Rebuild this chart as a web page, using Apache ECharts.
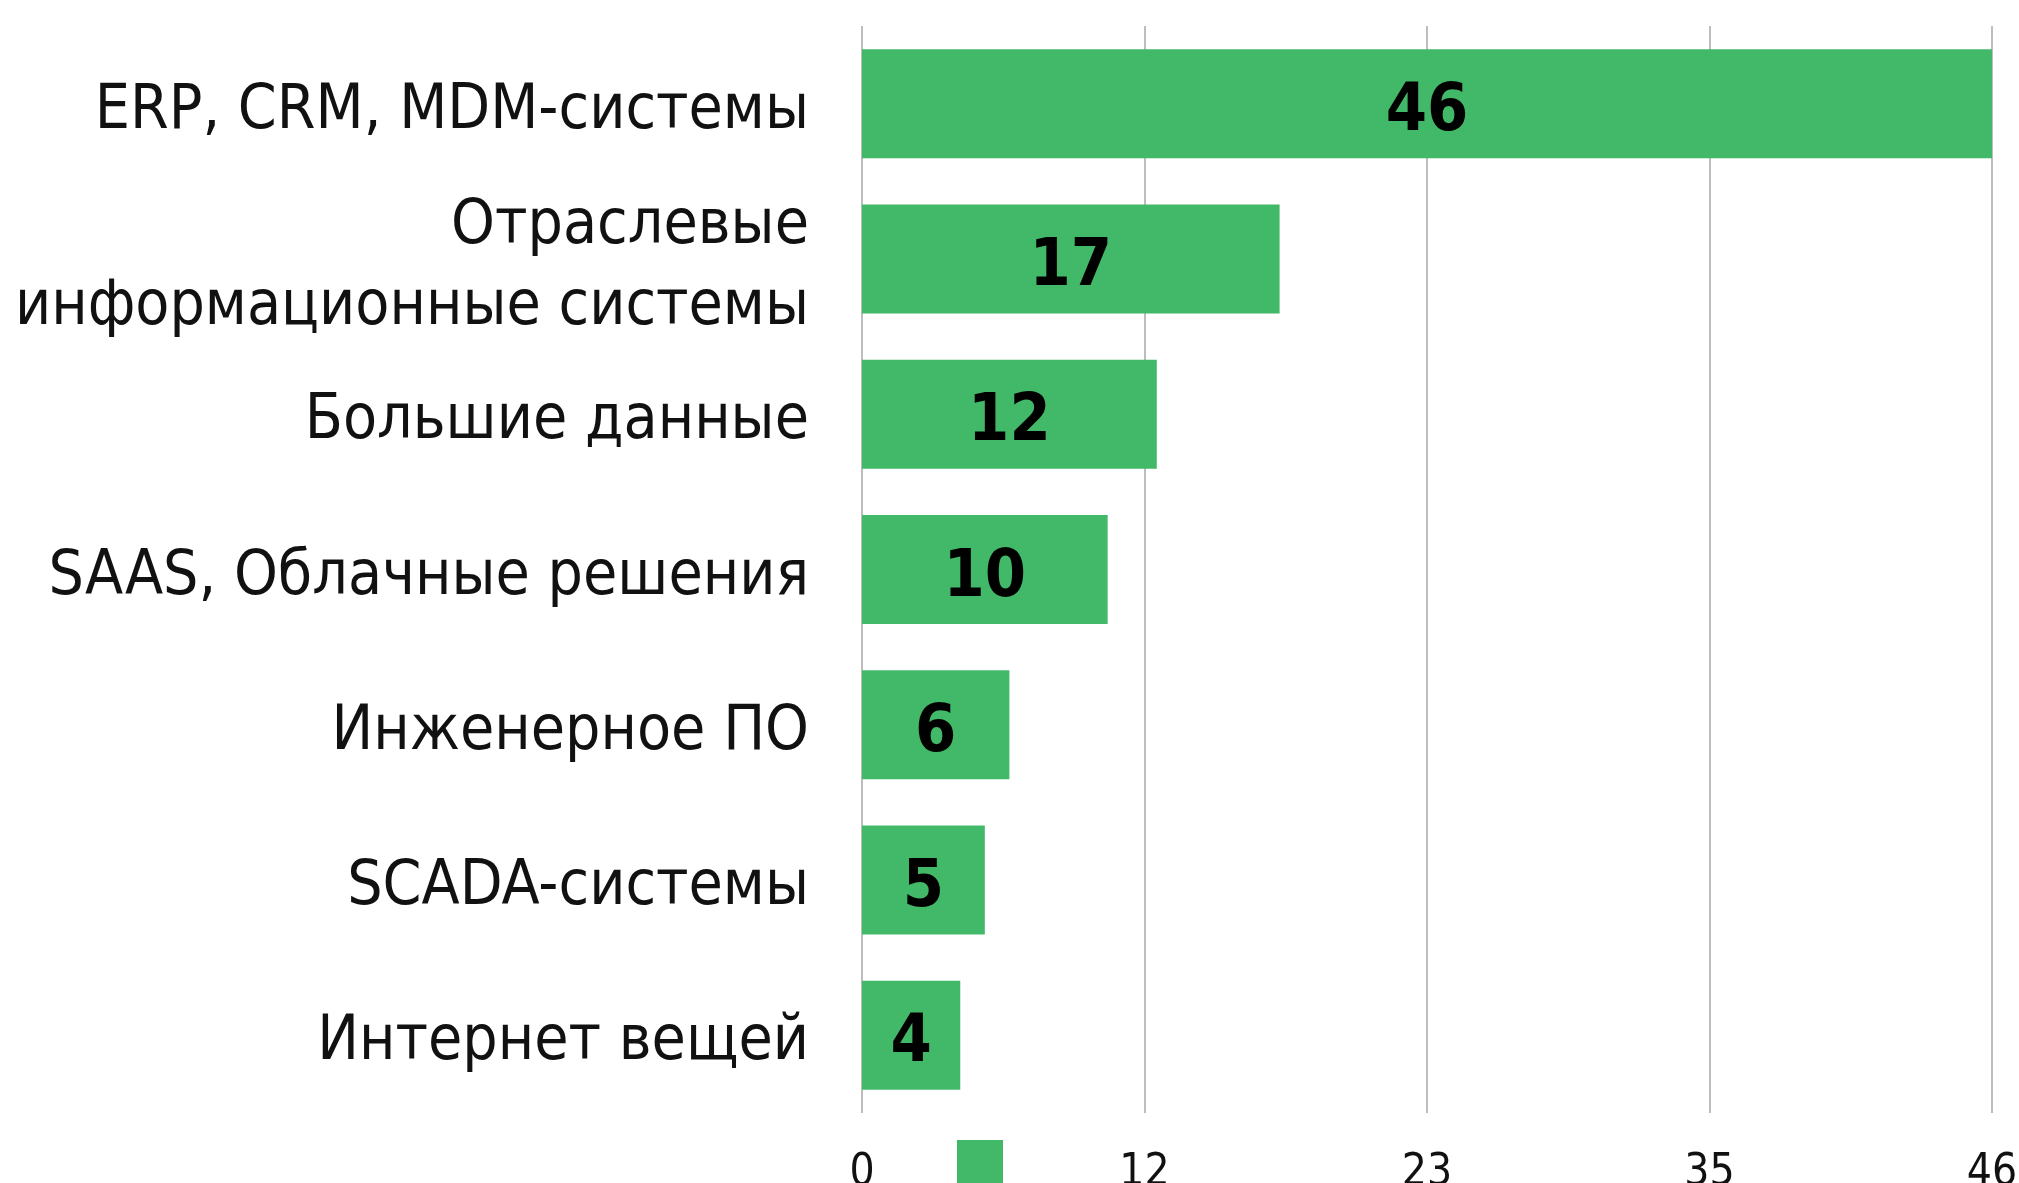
<!DOCTYPE html>
<html><head><meta charset="utf-8">
<script src="https://cdn.jsdelivr.net/npm/echarts@6/dist/echarts.min.js"></script>
<style>html,body{margin:0;padding:0;background:#fff}#c{width:2019px;height:1183px}</style>
</head><body><div id="c"></div>
<script>
const categories = ["ERP, CRM, MDM-системы", "Отраслевые\nинформационные системы", "Большие данные", "SAAS, Облачные решения", "Инженерное ПО", "SCADA-системы", "Интернет вещей"];
const values = [46, 17, 12, 10, 6, 5, 4];
const axisMax = 46;
const axisStep = 11.5;

const chart = echarts.init(document.getElementById('c'));
chart.setOption({
  animation: false,
  backgroundColor: '#ffffff',
  grid: [
    { left: 862, right: 27, top: 26, bottom: 70, containLabel: false, outerBoundsMode: 'none' },
    { left: 862, right: 27, top: 34, bottom: 62, containLabel: false, outerBoundsMode: 'none' }
  ],
  legend: {
    left: 952, top: 1135, itemWidth: 46, itemHeight: 46, icon: 'rect',
    formatter: () => '', data: ['Количество'], textStyle: { fontSize: 1 }
  },
  xAxis: [{
    type: 'value', gridIndex: 0, min: 0, max: axisMax, interval: axisStep,
    axisLine: { show: false }, axisTick: { show: false },
    splitLine: { show: true, lineStyle: { color: '#bdbdbd', width: 2 } },
    axisLabel: {
      formatter: v => String(Math.round(v)),
      fontFamily: 'DejaVu Sans Condensed', fontSize: 44, color: '#111', margin: 39
    }
  }, {
    type: 'value', gridIndex: 1, min: 0, max: axisMax, show: false
  }],
  yAxis: [{
    type: 'category', gridIndex: 0, inverse: true, data: categories,
    axisLine: { show: false }, axisTick: { show: false }, axisLabel: { show: false }
  }, {
    type: 'category', gridIndex: 1, inverse: true, data: categories,
    axisLine: { show: false }, axisTick: { show: false }, splitLine: { show: false },
    axisLabel: {
      fontFamily: 'DejaVu Sans Condensed', fontSize: 62, color: '#111',
      margin: 53, lineHeight: 81, align: 'right'
    }
  }],
  series: [{
    name: 'Количество', type: 'bar', xAxisIndex: 0, yAxisIndex: 0, data: values, barWidth: 109,
    itemStyle: { color: '#42b968' },
    label: {
      show: true, position: 'inside', fontFamily: 'DejaVu Sans Condensed',
      fontWeight: 'bold', fontSize: 66, color: '#000', offset: [0, 9]
    }
  }]
});
</script></body></html>
